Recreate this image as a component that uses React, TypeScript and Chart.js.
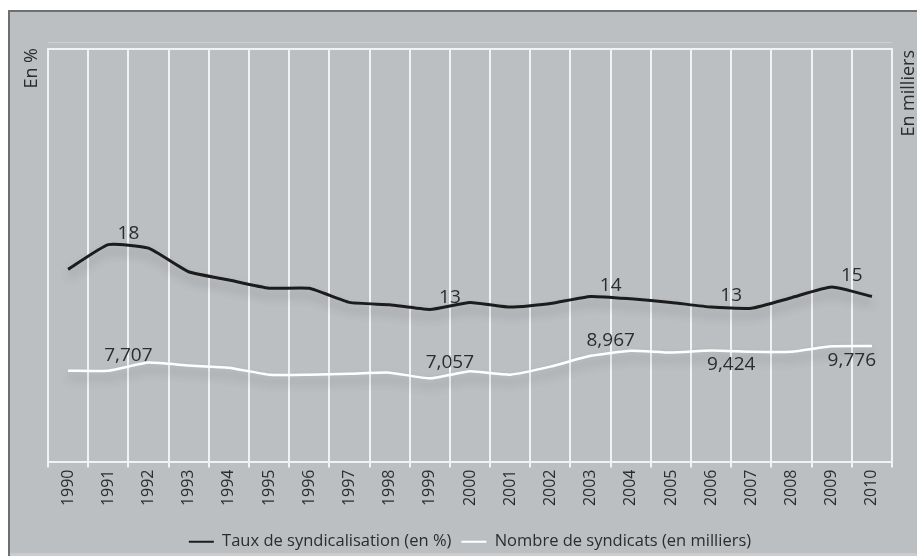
import React, { useEffect, useRef } from "react";
import { Chart, registerables } from "chart.js";

Chart.register(...registerables);

const years = [
  "1990", "1991", "1992", "1993", "1994", "1995", "1996", "1997", "1998", "1999", "2000",
  "2001", "2002", "2003", "2004", "2005", "2006", "2007", "2008", "2009", "2010",
];

// Taux de syndicalisation (en %)
const tauxSyndicalisation = [
  16.3, 18.4, 18.1, 16.1, 15.4, 14.7, 14.7, 13.5, 13.3, 12.9, 13.5,
  13.1, 13.4, 14.0, 13.8, 13.5, 13.1, 13.0, 13.9, 14.8, 14.0,
];

// Nombre de syndicats (en milliers)
const nombreSyndicats = [
  7700, 7707, 8390, 8140, 7960, 7370, 7370, 7450, 7540, 7057, 7650,
  7370, 8050, 8967, 9400, 9240, 9424, 9320, 9320, 9776, 9800,
];

const labeledTaux = [1, 9, 13, 16, 19];
const labeledSyndicats = [1, 9, 13, 16, 19];

const legendTaux = "Taux de syndicalisation (en %)";
const legendSyndicats = "Nombre de syndicats (en milliers)";
const axisTitleLeft = "En %";
const axisTitleRight = "En milliers";

const FONT = "'Open Sans', 'DejaVu Sans', sans-serif";
const TEXT = "#2c2c2c";

const decorPlugin = {
  id: "decor",
  beforeDraw(chart: any) {
    const { ctx, width, height, chartArea } = chart;
    ctx.save();
    ctx.fillStyle = "#ffffff";
    ctx.fillRect(0, 0, width, height);
    ctx.fillStyle = "#bcbfc2";
    ctx.fillRect(8, 10, width - 8, height - 13);
    ctx.fillStyle = "#c9cbcd";
    ctx.fillRect(8, height - 3, width - 8, 3);
    ctx.fillStyle = "#6e6f71";
    ctx.fillRect(8, 10, width - 8, 2);
    ctx.fillRect(8, 10, 2, height - 10);
    ctx.fillStyle = "rgba(255,255,255,0.25)";
    ctx.fillRect(chartArea.left, chartArea.top - 7, chartArea.right - chartArea.left, 1);
    ctx.restore();
  },
  beforeDatasetsDraw(chart: any) {
    const { ctx, chartArea } = chart;
    ctx.save();
    ctx.strokeStyle = "#f2f2f2";
    ctx.lineWidth = 2;
    ctx.beginPath();
    ctx.moveTo(chartArea.left - 1, chartArea.top);
    ctx.lineTo(chartArea.right + 1, chartArea.top);
    ctx.stroke();
    ctx.restore();
  },
  beforeDatasetDraw(chart: any) {
    const ctx = chart.ctx;
    ctx.save();
    ctx.shadowColor = "rgba(60,60,60,0.3)";
    ctx.shadowBlur = 10;
    ctx.shadowOffsetY = 7;
  },
  afterDatasetDraw(chart: any) {
    chart.ctx.restore();
  },
  afterDatasetsDraw(chart: any) {
    const { ctx, scales } = chart;
    const x = scales.x;
    const yL = scales.y;
    const yR = scales.y1;
    const midX = (i: number) => (x.getPixelForValue(i) + x.getPixelForValue(i + 1)) / 2;
    ctx.save();
    ctx.fillStyle = TEXT;
    ctx.font = `19px ${FONT}`;
    ctx.textAlign = "center";
    ctx.textBaseline = "alphabetic";
    labeledTaux.forEach((i) => {
      const py = yL.getPixelForValue(tauxSyndicalisation[i]);
      ctx.fillText(String(Math.round(tauxSyndicalisation[i])), midX(i), py - 6);
    });
    labeledSyndicats.forEach((i) => {
      const py = yR.getPixelForValue(nombreSyndicats[i]);
      const text = nombreSyndicats[i].toLocaleString("en-US");
      const below = i >= 15;
      ctx.fillText(text, midX(i), below ? py + 20 : py - 10);
    });
    ctx.restore();
  },
  afterDraw(chart: any) {
    const { ctx, chartArea, width } = chart;
    ctx.save();
    ctx.fillStyle = TEXT;
    ctx.font = `18px ${FONT}`;
    ctx.textAlign = "right";
    ctx.textBaseline = "middle";
    ctx.translate(32, chartArea.top - 1);
    ctx.rotate(-Math.PI / 2);
    ctx.fillText(axisTitleLeft, 0, 0);
    ctx.restore();
    ctx.save();
    ctx.fillStyle = TEXT;
    ctx.font = `18px ${FONT}`;
    ctx.textAlign = "right";
    ctx.textBaseline = "middle";
    ctx.translate(width - 8, chartArea.top + 1);
    ctx.rotate(-Math.PI / 2);
    ctx.fillText(axisTitleRight, 0, 0);
    ctx.restore();
  },
};

export default function App() {
  const ref = useRef<HTMLCanvasElement | null>(null);

  useEffect(() => {
    if (!ref.current) return;
    const chart = new Chart(ref.current, {
      type: "line",
      data: {
        labels: years,
        datasets: [
          {
            label: legendTaux,
            data: tauxSyndicalisation,
            borderColor: "#1c1c1c",
            backgroundColor: "#1c1c1c",
            borderWidth: 3,
            pointRadius: 0,
            tension: 0.15,
            yAxisID: "y",
          },
          {
            label: legendSyndicats,
            data: nombreSyndicats,
            borderColor: "#ffffff",
            backgroundColor: "#ffffff",
            borderWidth: 2.5,
            pointRadius: 0,
            tension: 0.15,
            yAxisID: "y1",
          },
        ],
      },
      options: {
        responsive: false,
        animation: false,
        layout: { padding: { left: 48, right: 25, top: 49, bottom: -4 } },
        plugins: {
          tooltip: { enabled: false },
          legend: {
            position: "bottom",
            labels: {
              boxWidth: 25,
              boxHeight: 2,
              padding: 10,
              color: TEXT,
              font: { family: FONT, size: 16.5 },
              generateLabels: (c: any) =>
                c.data.datasets.map((ds: any, i: number) => ({
                  text: ds.label,
                  fillStyle: ds.borderColor,
                  strokeStyle: ds.borderColor,
                  lineWidth: 0,
                  hidden: false,
                  datasetIndex: i,
                  fontColor: TEXT,
                })),
            },
          },
        },
        scales: {
          x: {
            type: "category",
            offset: true,
            afterFit: (s: any) => {
              s.height = 62;
            },
            grid: {
              offset: true,
              color: "#f2f2f2",
              lineWidth: 2,
              drawTicks: true,
              tickLength: 6,
            },
            border: { display: true, color: "#f2f2f2", width: 2 },
            ticks: {
              color: TEXT,
              font: { family: FONT, size: 16 },
              minRotation: 90,
              maxRotation: 90,
              autoSkip: false,
              padding: 2,
            },
          },
          y: { display: false, min: 0, max: 35 },
          y1: { display: false, min: 0, max: 35000, position: "right" },
        },
      },
      plugins: [decorPlugin],
    } as any);
    return () => chart.destroy();
  }, []);

  return (
    <div style={{ position: "fixed", left: 0, top: 0, width: 917, height: 556 }}>
      <canvas ref={ref} width={917} height={556} style={{ display: "block" }} />
    </div>
  );
}
